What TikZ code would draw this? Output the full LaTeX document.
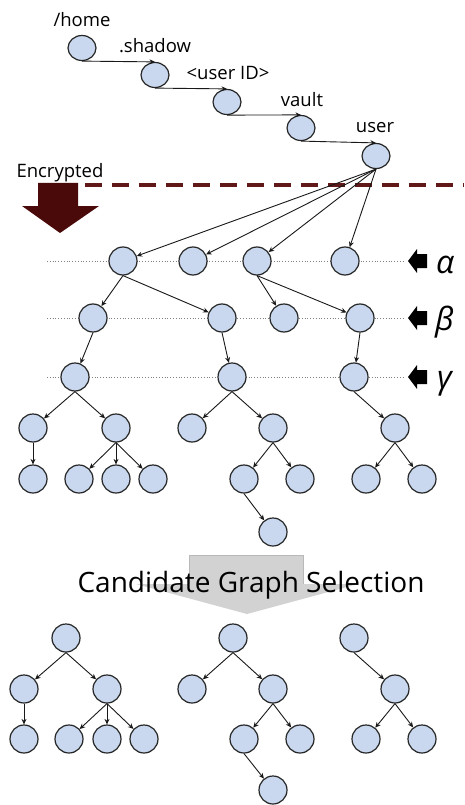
\documentclass[tikz,border=0pt]{standalone}
\usepackage{fontspec}
\setmainfont{Open Sans}
\usetikzlibrary{arrows.meta,shapes.geometric}
\definecolor{nodeblue}{RGB}{201,216,238}
\definecolor{encmaroon}{RGB}{74,10,10}
\definecolor{dashred}{RGB}{96,24,24}
\begin{document}
\begin{tikzpicture}[x=1pt,y=-1pt,
  nd/.style={circle,draw=black!85,fill=nodeblue,line width=1.2pt,minimum size=28pt,inner sep=0pt},
  pathnd/.style={ellipse,draw=black!85,fill=nodeblue,line width=1.2pt,minimum width=28pt,minimum height=25pt,inner sep=0pt},
  edge/.style={-{Stealth[length=5.5pt,width=5pt]},line width=0.9pt,black!90},
  levelline/.style={gray,dotted,line width=0.8pt},
  lbl/.style={font=\fontsize{18.5}{20}\selectfont,text=black,inner sep=0pt,anchor=base},
  greek/.style={font=\fontsize{32}{36}\selectfont\itshape,inner sep=0pt,anchor=base west}]

\useasboundingbox[fill=white] (0,0) rectangle (464,805);

% directory path down to the user folder
\node[pathnd] (c1) at (82,48) {};
\node[pathnd] (c2) at (155,75) {};
\node[pathnd] (c3) at (227,102) {};
\node[pathnd] (c4) at (301,128) {};
\node[pathnd] (u)  at (376,156) {};
\node[lbl] (l1) at (82,27) {/home};
\node[lbl] (l2) at (155,53) {.shadow};
\node[lbl] (l3) at (228,80) {<user ID>};
\node[lbl] (l4) at (302,107) {vault};
\node[lbl] (l5) at (375,133) {user};
\foreach \a/\b in {c1/c2,c2/c3,c3/c4,c4/u}
  \draw[edge] (\a.south) -- (\b.north);

% encryption boundary
\node[lbl] (enc) at (60,178) {Encrypted};
\draw[dashred,line width=3.2pt,dash pattern=on 17pt off 10pt] (85,185) -- (464,185);
\fill[encmaroon] (38,183) -- (78,183) -- (78,206) -- (99,206) -- (60,233)
  -- (22,206) -- (38,206) -- cycle;

% level guides
\foreach \y in {261,318,377}{
  \draw[levelline] (47,\y) -- (405,\y);
  \fill[black] (408,\y) -- (417,\y-12) -- (417,\y-7) -- (427,\y-7)
    -- (427,\y+7) -- (417,\y+7) -- (417,\y+12) -- cycle;
}
\node[greek] (ga) at (436,273) {α};
\node[greek] (gb) at (435,330) {β};
\node[greek] (gg) at (437,388) {γ};

% encrypted tree
\node[nd] (a1) at (123,261) {};
\node[nd] (a2) at (193,261) {};
\node[nd] (a3) at (257,261) {};
\node[nd] (a4) at (345,261) {};
\node[nd] (b1) at (93,318) {};
\node[nd] (b2) at (222,318) {};
\node[nd] (b3) at (284,318) {};
\node[nd] (b4) at (360,318) {};
\node[nd] (g1) at (75,377) {};
\node[nd] (g2) at (232,377) {};
\node[nd] (g3) at (354,377) {};
\node[nd] (d1) at (33,428) {};
\node[nd] (d2) at (116,428) {};
\node[nd] (d3) at (192,428) {};
\node[nd] (d4) at (273,428) {};
\node[nd] (d5) at (395,428) {};
\node[nd] (e1) at (33,479) {};
\node[nd] (e2) at (79,479) {};
\node[nd] (e3) at (116,479) {};
\node[nd] (e4) at (153,479) {};
\node[nd] (e5) at (244,479) {};
\node[nd] (e6) at (300,479) {};
\node[nd] (e7) at (366,479) {};
\node[nd] (e8) at (422,479) {};
\node[nd] (f1) at (273,532) {};
\foreach \b in {a1,a2,a3,a4}
  \draw[edge] (u.south) -- (\b);
\foreach \a/\b in {a1/b1,a1/b2,a3/b3,a3/b4,b1/g1,b2/g2,b4/g3,
    g1/d1,g1/d2,g2/d3,g2/d4,g3/d5,d1/e1,d2/e2,d2/e3,d2/e4,
    d4/e5,d4/e6,d5/e7,d5/e8,e5/f1}
  \draw[edge] (\a.south) -- (\b);

% selection step
\fill[gray!35] (189,555) -- (303,555) -- (303,584) -- (358,584) -- (247,614)
  -- (136,584) -- (189,584) -- cycle;
\draw[gray!55,line width=0.5pt] (189,584) -- (189,555) -- (303,555) -- (303,584);
\node[font=\fontsize{28}{32}\selectfont,text=black,inner sep=0pt,anchor=base] (sel)
  at (251,592) {Candidate Graph Selection};

% candidate graphs
\node[nd] (r1) at (66,638) {};
\node[nd] (s1) at (24,689) {};
\node[nd] (s2) at (107,689) {};
\node[nd] (t1) at (24,739) {};
\node[nd] (t2) at (69,739) {};
\node[nd] (t3) at (107,739) {};
\node[nd] (t4) at (144,739) {};
\node[nd] (r2) at (233,638) {};
\node[nd] (s3) at (192,689) {};
\node[nd] (s4) at (273,689) {};
\node[nd] (t5) at (244,739) {};
\node[nd] (t6) at (300,739) {};
\node[nd] (w1) at (273,790) {};
\node[nd] (r3) at (354,638) {};
\node[nd] (s5) at (395,689) {};
\node[nd] (t7) at (366,739) {};
\node[nd] (t8) at (422,739) {};
\foreach \a/\b in {r1/s1,r1/s2,s1/t1,s2/t2,s2/t3,s2/t4,
    r2/s3,r2/s4,s4/t5,s4/t6,t5/w1,r3/s5,s5/t7,s5/t8}
  \draw[edge] (\a.south) -- (\b);
\end{tikzpicture}
\end{document}
